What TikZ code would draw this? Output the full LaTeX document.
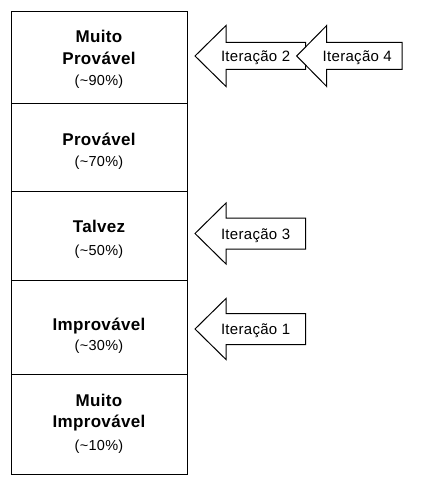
\documentclass[tikz,border=0pt]{standalone}
\usepackage{fontspec}
\setmainfont{Liberation Sans}[LetterSpace=2]
\newcommand{\iterarrow}[8]{%
  % #1 name, #2 tip x, #3 center y, #4 head half, #5 body half, #6 head base x, #7 end x, #8 text
  \draw[arrowshape] (#2,#3) -- (#6,#3-#4) -- (#6,#3-#5) -- (#7,#3-#5) -- (#7,#3+#5)
    -- (#6,#3+#5) -- (#6,#3+#4) -- cycle;
  \node[itertext] (#1) at (#2+25.5,#3+5.5) {#8};
}
\begin{document}
\begin{tikzpicture}[x=1pt,y=-1pt,line width=1pt,
  level/.style={draw, rectangle, minimum width=176pt, anchor=north west, outer sep=0pt,
    inner sep=0pt},
  boldline/.style={anchor=base, inner sep=0pt, font=\fontsize{17}{21}\selectfont\bfseries},
  pctline/.style={anchor=base, inner sep=0pt, font=\fontsize{14.5}{17}\selectfont},
  arrowshape/.style={draw, fill=white, line join=miter},
  itertext/.style={anchor=base west, inner sep=0pt, font=\fontsize{15}{17}\selectfont}]
\useasboundingbox (0,0) rectangle (421,484);
\fill[white] (0,0) rectangle (421,484);
\node[level, minimum height=91.8pt] (b1) at (11,11.5) {};
\node[level, minimum height=87.7pt] (b2) at (b1.south west) {};
\node[level, minimum height=89pt] (b3) at (b2.south west) {};
\node[level, minimum height=94pt] (b4) at (b3.south west) {};
\node[level, minimum height=100pt] (b5) at (b4.south west) {};
% box 1
\node[boldline] (t1a) at (99,42.7) {Muito};
\node[boldline] (t1b) at (99,64.3) {Provável};
\node[pctline]  (t1c) at (99,85.5) {(\textasciitilde90\%)};
% box 2
\node[boldline] (t2a) at (99,146) {Provável};
\node[pctline]  (t2b) at (99,166.7) {(\textasciitilde70\%)};
% box 3
\node[boldline] (t3a) at (99,232.7) {Talvez};
\node[pctline]  (t3b) at (99,255) {(\textasciitilde50\%)};
% box 4
\node[boldline] (t4a) at (99,330) {Improvável};
\node[pctline]  (t4b) at (99,350) {(\textasciitilde30\%)};
% box 5
\node[boldline] (t5a) at (99,406.7) {Muito};
\node[boldline] (t5b) at (99,427.7) {Improvável};
\node[pctline]  (t5c) at (99,450) {(\textasciitilde10\%)};
% iteration arrows
\iterarrow{it2}{195}{56}{30.5}{13.5}{226}{305.7}{Iteração 2}
\iterarrow{it4}{296.7}{56}{30.5}{13.5}{326.7}{402}{Iteração 4}
\iterarrow{it3}{195}{233.5}{30.5}{15.5}{226}{305.7}{Iteração 3}
\iterarrow{it1}{195}{329}{30.5}{15.5}{226}{305.7}{Iteração 1}
\end{tikzpicture}
\end{document}
